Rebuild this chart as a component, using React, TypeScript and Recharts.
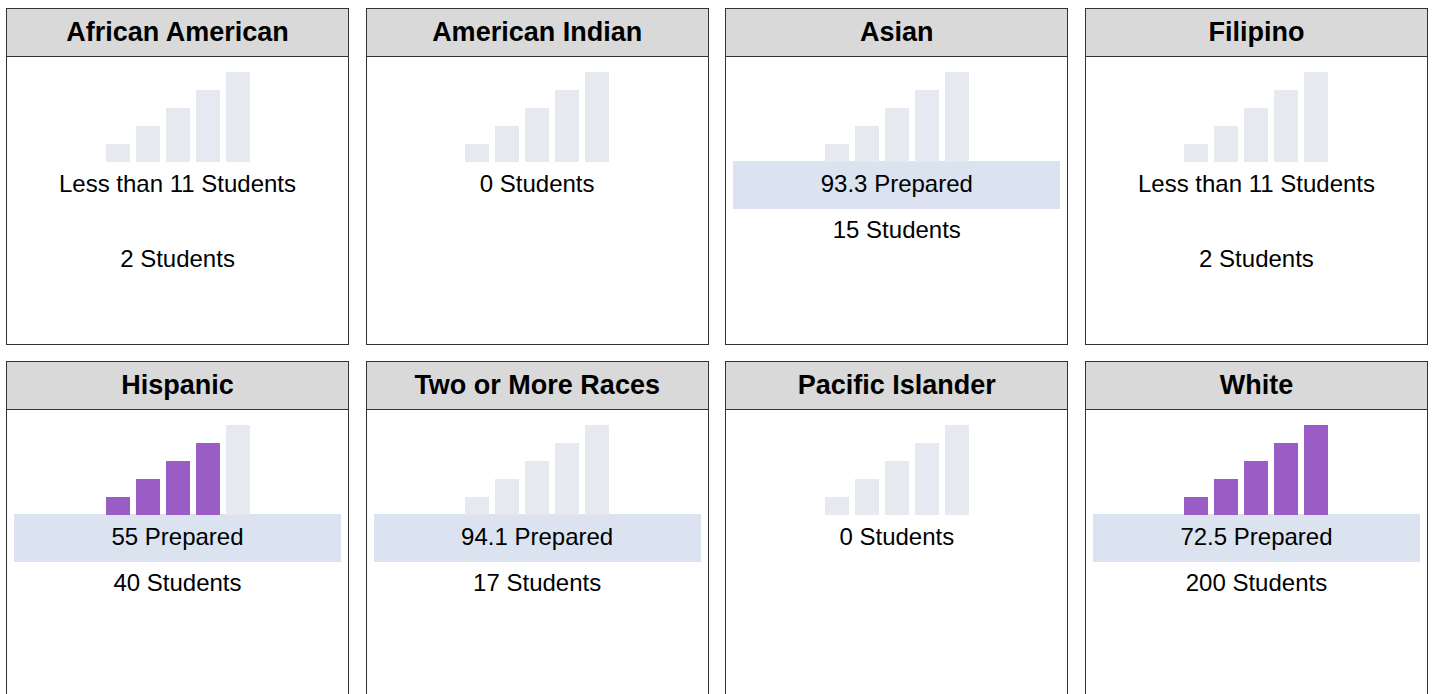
import { Bar, BarChart, Cell, XAxis, YAxis } from 'recharts';

const groups = [
  'African American',
  'American Indian',
  'Asian',
  'Filipino',
  'Hispanic',
  'Two or More Races',
  'Pacific Islander',
  'White',
];
const studentCounts = [2, 0, 15, 2, 40, 17, 0, 200];
const preparedPct = [null, null, 93.3, null, 55, 94.1, null, 72.5];
const filledBars = [0, 0, 0, 0, 4, 0, 0, 5];
const levels = [1, 2, 3, 4, 5];
const smallGroupLimit = 11;

const PURPLE = '#995dc5';
const GREY = '#e6eaf0';
const BAND = '#dae3ef';

const levelData = levels.map((level) => ({ name: `L${level}`, level }));

function GroupCard({ index }: { index: number }) {
  const count = studentCounts[index];
  const pct = preparedPct[index];
  const filled = filledBars[index];
  const small = count > 0 && count < smallGroupLimit;

  return (
    <div
      style={{
        width: 341,
        height: 335,
        border: '1px solid #333',
        background: '#fff',
        boxSizing: 'content-box',
      }}
    >
      <div
        style={{
          height: 47,
          lineHeight: '46px',
          background: '#d9d9d9',
          borderBottom: '1px solid #333',
          textAlign: 'center',
          fontWeight: 'bold',
          fontSize: 27,
        }}
      >
        {groups[index]}
      </div>
      <div style={{ height: 15 }} />
      <div style={{ width: 150, height: 90, margin: '0 auto' }}>
        <BarChart
          width={150}
          height={90}
          data={levelData}
          margin={{ top: 0, right: 0, bottom: 0, left: 0 }}
        >
          <XAxis dataKey='name' hide />
          <YAxis hide domain={[0, 5]} />
          <Bar dataKey='level' barSize={24} isAnimationActive={false}>
            {levelData.map((d, i) => (
              <Cell key={d.name} fill={i < filled ? PURPLE : GREY} />
            ))}
          </Bar>
        </BarChart>
      </div>
      <div
        style={{
          margin: '-1px 7px 0 7px',
          height: 48,
          lineHeight: '45px',
          background: pct !== null ? BAND : 'transparent',
          textAlign: 'center',
          fontSize: 24,
        }}
      >
        {pct !== null
          ? `${pct} Prepared`
          : small
          ? `Less than ${smallGroupLimit} Students`
          : `${count} Students`}
      </div>
      {(pct !== null || small) && (
        <div
          style={{
            marginTop: small ? 29 : 0,
            height: 44,
            lineHeight: '42px',
            textAlign: 'center',
            fontSize: 24,
          }}
        >
          {`${count} Students`}
        </div>
      )}
    </div>
  );
}

export default function App() {
  return (
    <div
      style={{
        position: 'absolute',
        left: 6,
        top: 8,
        width: 1424,
        height: 686,
        overflow: 'hidden',
        display: 'grid',
        gridTemplateColumns: 'repeat(4, 343px)',
        columnGap: 16.67,
        rowGap: 16,
        fontFamily: '"Liberation Sans", Arial, sans-serif',
        color: '#000',
      }}
    >
      {groups.map((g, i) => (
        <GroupCard key={g} index={i} />
      ))}
    </div>
  );
}
